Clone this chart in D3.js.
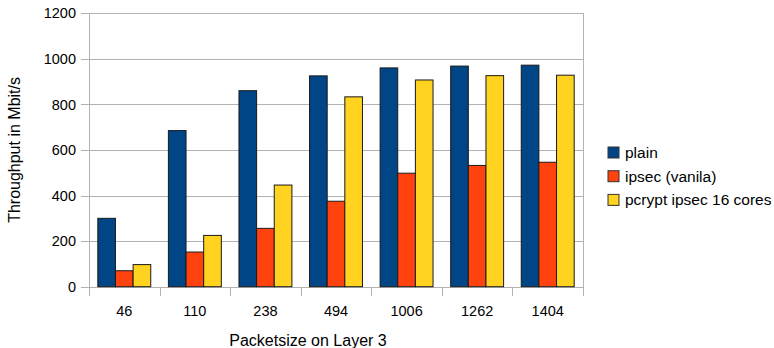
<!DOCTYPE html>
<html><head><meta charset="utf-8">
<script src="https://cdn.jsdelivr.net/npm/d3@7"></script>
<style>
body{margin:0;background:#fff;}
text{font-family:"Liberation Sans",Arial,sans-serif;fill:#000;}
</style></head>
<body><svg id="c" width="774" height="348"></svg>
<script>
const categories = ["46","110","238","494","1006","1262","1404"];
const seriesNames = ["plain","ipsec (vanila)","pcrypt ipsec 16 cores"];
const plain  = [300, 685, 860, 925, 960, 968, 972];
const ipsec  = [70, 152, 256, 375, 498, 532, 546];
const pcrypt = [97, 225, 446, 833, 907, 926, 928];
const yTicks = [0,200,400,600,800,1000,1200];
const colors = ["#004586","#ff420e","#ffd320"];

const svg = d3.select("#c");
const L=89, R=583, T=13.2, B=286.7;
const x = d3.scaleBand().domain(categories).range([L,R]).paddingInner(0).paddingOuter(0);
const y = d3.scaleLinear().domain([0,1200]).range([B,T]);
const inner = d3.scaleBand().domain(seriesNames).range([0,x.bandwidth()]).paddingOuter(0.5).paddingInner(0);

const grid="#b3b3b3";
// gridlines
svg.append("g").selectAll("line").data(yTicks).join("line")
  .attr("x1",L-8).attr("x2",R).attr("y1",d=>Math.round(y(d))+0.5).attr("y2",d=>Math.round(y(d))+0.5)
  .attr("stroke",grid).attr("stroke-width",1);
// right border
svg.append("line").attr("x1",R+0.5).attr("x2",R+0.5).attr("y1",Math.round(T)).attr("y2",Math.round(B)+9)
  .attr("stroke",grid);
// left axis line
svg.append("line").attr("x1",L+0.5).attr("x2",L+0.5).attr("y1",Math.round(T)).attr("y2",Math.round(B)+9)
  .attr("stroke",grid);
// x ticks at band boundaries
svg.append("g").selectAll("line").data(categories.slice(1)).join("line")
  .attr("x1",d=>Math.round(x(d))+0.5).attr("x2",d=>Math.round(x(d))+0.5)
  .attr("y1",Math.round(B)).attr("y2",Math.round(B)+9).attr("stroke",grid);

// y tick labels
svg.append("g").selectAll("text").data(yTicks).join("text")
  .attr("x",76).attr("y",d=>y(d)).attr("dy","0.36em").attr("text-anchor","end")
  .style("font-size","14.5px").text(d=>d);
// x tick labels
svg.append("g").selectAll("text").data(categories).join("text")
  .attr("x",d=>x(d)+x.bandwidth()/2).attr("y",316).attr("text-anchor","middle")
  .style("font-size","14.5px").text(d=>d);

// bars
const data = [plain, ipsec, pcrypt];
const gb = svg.append("g");
data.forEach((vals,si)=>{
  gb.append("g").selectAll("rect").data(vals).join("rect")
    .attr("x",(d,i)=>x(categories[i])+inner(seriesNames[si]))
    .attr("width",inner.bandwidth())
    .attr("y",d=>y(d)).attr("height",d=>B-y(d))
    .attr("fill",colors[si]).attr("stroke","#1a1a1a").attr("stroke-width",1);
});

// titles
svg.append("text").attr("x",308).attr("y",345.5).attr("text-anchor","middle")
  .style("font-size","16px").text("Packetsize on Layer 3");
svg.append("text").attr("transform",`translate(20,${(T+B)/2}) rotate(-90)`)
  .attr("text-anchor","middle").style("font-size","16px").text("Throughput in Mbit/s");

// legend
const lg = svg.append("g");
seriesNames.forEach((n,i)=>{
  const yy = 147 + i*23.7;
  lg.append("rect").attr("x",608).attr("y",yy).attr("width",11).attr("height",11)
    .attr("fill",colors[i]).attr("stroke","#333").attr("stroke-width",1);
  lg.append("text").attr("x",625).attr("y",yy+11).style("font-size","15.5px").text(n);
});
</script></body></html>
